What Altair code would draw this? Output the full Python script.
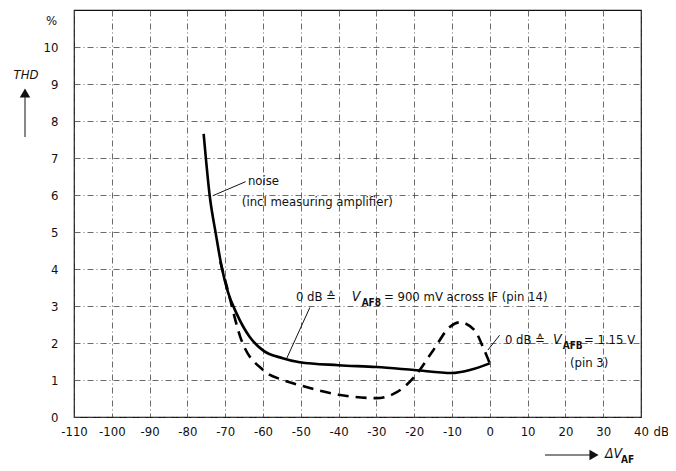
import altair as alt
import pandas as pd

# Noise / THD curve (solid)
noise_x = [-75.7, -74.1, -72.5, -70.9, -69.5, -67.0, -63.5, -60.0, -54.8, -50.3, -40.0, -30.0, -20.0, -10.0, -5.3, 0.0]
noise_y = [7.65, 5.98, 4.96, 4.04, 3.45, 2.80, 2.16, 1.80, 1.59, 1.48, 1.40, 1.35, 1.27, 1.19, 1.27, 1.45]

# THD curve (dashed)
thd_x = [-71.3, -69.3, -66.0, -60.0, -54.8, -50.3, -40.0, -30.0, -24.6, -20.0, -15.0, -10.6, -7.9, -4.0, -1.8, 0.0]
thd_y = [4.20, 3.42, 2.16, 1.27, 1.00, 0.86, 0.60, 0.51, 0.67, 1.08, 1.80, 2.43, 2.56, 2.34, 1.89, 1.45]

x_ticks = list(range(-110, 41, 10))
y_ticks = list(range(0, 11))

FONT = "DejaVu Sans Condensed, Liberation Sans Narrow, Liberation Sans, sans-serif"

W, H = 567, 407

curves = pd.concat([
    pd.DataFrame({"x": noise_x, "y": noise_y, "s": "noise", "o": range(len(noise_x))}),
    pd.DataFrame({"x": thd_x, "y": thd_y, "s": "thd", "o": range(len(thd_x))}),
])

xs = alt.Scale(domain=[-110, 40], nice=False, zero=False)
ys = alt.Scale(domain=[0, 11], nice=False, zero=False)

xax = alt.Axis(values=x_ticks, title=None, ticks=False, domain=False, labelPadding=8,
               labelOverlap=False, labelFlush=False, tickCount=16,
               grid=True, gridColor="#444", gridDash=[6, 3, 1, 3], gridWidth=0.8,
               labelFont=FONT, labelFontSize=13, labelColor="#111", labelExpr="'' + datum.value")
yax = alt.Axis(values=y_ticks, title=None, ticks=False, domain=False, labelPadding=16,
               labelOverlap=False, labelFlush=False,
               grid=True, gridColor="#444", gridDash=[6, 3, 1, 3], gridWidth=0.8,
               labelFont=FONT, labelFontSize=13, labelColor="#111")


def X(f):
    return alt.X(f, scale=xs, axis=xax)


def Y(f):
    return alt.Y(f, scale=ys, axis=yax)


base = alt.Chart(curves)

solid = base.transform_filter("datum.s == 'noise'").mark_line(
    color="black", strokeWidth=2.6, interpolate="monotone"
).encode(x=X("x:Q"), y=Y("y:Q"), order="o:Q")

dashed = base.transform_filter("datum.s == 'thd'").mark_line(
    color="black", strokeWidth=2.6, strokeDash=[11, 7], interpolate="monotone"
).encode(x=X("x:Q"), y=Y("y:Q"), order="o:Q")

# annotation texts (data coordinates)
normal = pd.DataFrame({
    "x": [-64.0, -65.6, -51.3, -28.0, 4.0, 24.9, 21.2],
    "y": [6.39, 5.80, 3.23, 3.23, 2.08, 2.08, 1.46],
    "t": ["noise", "(incl measuring amplifier)", "0 dB \u2259", "= 900 mV across IF (pin 14)",
          "0 dB \u2259", "= 1.15 V", "(pin 3)"],
})
ital = pd.DataFrame({"x": [-36.5, 16.7], "y": [3.23, 2.08], "t": ["V", "V"]})
subs = pd.DataFrame({"x": [-33.9, 19.3], "y": [3.07, 1.91], "t": ["AF8", "AFB"]})

t_normal = alt.Chart(normal).mark_text(align="left", baseline="middle", font=FONT, fontSize=13, color="#111").encode(
    x=X("x:Q"), y=Y("y:Q"), text="t:N")
t_ital = alt.Chart(ital).mark_text(align="left", baseline="middle", font=FONT, fontSize=14, fontStyle="italic", color="#111").encode(
    x=X("x:Q"), y=Y("y:Q"), text="t:N")
t_subs = alt.Chart(subs).mark_text(align="left", baseline="middle", font=FONT, fontSize=10, fontWeight="bold", color="#111").encode(
    x=X("x:Q"), y=Y("y:Q"), text="t:N")

leaders = pd.DataFrame({
    "x": [-73.3, -47.6, 2.6], "y": [5.98, 2.96, 2.21],
    "x2": [-64.6, -53.7, -0.5], "y2": [6.36, 1.59, 1.81],
})
t_lead = alt.Chart(leaders).mark_rule(color="#111", strokeWidth=1).encode(
    x=X("x:Q"), y=Y("y:Q"), x2="x2:Q", y2="y2:Q")

# percent sign and dB unit
pct = alt.Chart(pd.DataFrame({"y": [10.7], "t": ["%"]})).mark_text(
    align="right", baseline="middle", font=FONT, fontSize=13, color="#111"
).encode(x=alt.value(-17), y=Y("y:Q"), text="t:N")
db = alt.Chart(pd.DataFrame({"x": [43.3], "t": ["dB"]})).mark_text(
    align="left", baseline="middle", font=FONT, fontSize=13, color="#111"
).encode(x=X("x:Q"), y=alt.value(H + 15), text="t:N")

# THD label and arrow
thd_lbl = alt.Chart(pd.DataFrame({"t": ["THD"]})).mark_text(
    align="center", baseline="middle", font=FONT, fontSize=13, fontStyle="italic", color="#111"
).encode(x=alt.value(-48), y=alt.value(65), text="t:N")
thd_shaft = alt.Chart(pd.DataFrame({"a": [1]})).mark_rule(color="#111", strokeWidth=1).encode(
    x=alt.value(-49), y=alt.value(86), y2=alt.value(127))
thd_head = alt.Chart(pd.DataFrame({"a": [1]})).mark_point(
    shape="triangle-up", filled=True, color="#111", size=110, opacity=1
).encode(x=alt.value(-49), y=alt.value(83))

# delta V_AF label and arrow
dv_shaft = alt.Chart(pd.DataFrame({"a": [1]})).mark_rule(color="#111", strokeWidth=1).encode(
    x=alt.value(471), x2=alt.value(518), y=alt.value(445))
dv_head = alt.Chart(pd.DataFrame({"a": [1]})).mark_point(
    shape="triangle-right", filled=True, color="#111", size=110, opacity=1
).encode(x=alt.value(520), y=alt.value(445))
dv_lbl = alt.Chart(pd.DataFrame({"t": ["\u0394V"]})).mark_text(
    align="left", baseline="middle", font=FONT, fontSize=14, fontStyle="italic", color="#111"
).encode(x=alt.value(531), y=alt.value(444), text="t:N")
dv_sub = alt.Chart(pd.DataFrame({"t": ["AF"]})).mark_text(
    align="left", baseline="middle", font=FONT, fontSize=10, fontWeight="bold", color="#111"
).encode(x=alt.value(547), y=alt.value(450), text="t:N")

chart = alt.layer(
    solid, dashed, t_lead, t_normal, t_ital, t_subs, pct, db,
    thd_lbl, thd_shaft, thd_head, dv_shaft, dv_head, dv_lbl, dv_sub
).properties(
    width=W, height=H,
    autosize=alt.AutoSizeParams(type="none"),
    padding={"left": 66, "top": 2, "right": 27, "bottom": 48},
    background="white",
).configure_view(stroke="#111", strokeWidth=1.2)

chart.save("out.html", embed_options={"renderer": "svg", "actions": False})
